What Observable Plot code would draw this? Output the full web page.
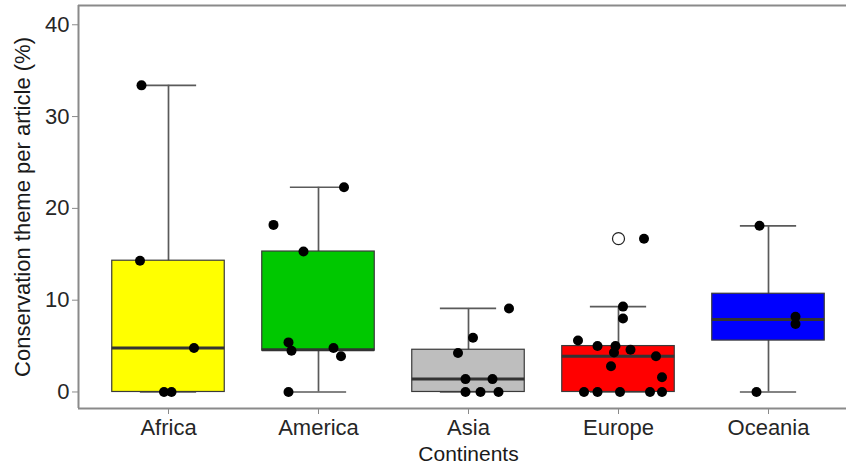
<!DOCTYPE html>
<html>
<head>
<meta charset="utf-8">
<script src="https://cdn.jsdelivr.net/npm/d3@7"></script>
<script src="https://cdn.jsdelivr.net/npm/@observablehq/plot@0.6"></script>
<style>
  html, body { margin: 0; padding: 0; background: #fff; }
  #chart { width: 846px; height: 468px; }
</style>
</head>
<body>
<div id="chart"></div>
<script>
// ---- data ----
const continents = ["Africa", "America", "Asia", "Europe", "Oceania"];
const whiskerLow  = [0,    0,    0,   0,   0];
const q1          = [0,    4.5,  0,   0,   5.6];
const median      = [4.8,  4.6,  1.4, 3.9, 7.9];
const q3          = [14.3, 15.3, 4.6, 5.0, 10.7];
const whiskerHigh = [33.4, 22.3, 9.1, 9.3, 18.1];

const outlierContinent = ["Europe"];
const outlierValue = [16.7];

// jittered observations: continent, value, horizontal jitter (category units)
const pointContinent = [
  "Africa","Africa","Africa","Africa","Africa",
  "America","America","America","America","America","America","America","America",
  "Asia","Asia","Asia","Asia","Asia","Asia","Asia","Asia",
  "Europe","Europe","Europe","Europe","Europe","Europe","Europe","Europe","Europe","Europe","Europe","Europe","Europe","Europe","Europe","Europe",
  "Oceania","Oceania","Oceania","Oceania"
];
const pointValue = [
  33.4, 14.3, 4.8, 0, 0,
  22.3, 18.2, 15.3, 5.4, 4.5, 4.8, 3.9, 0,
  9.1, 5.9, 4.25, 1.4, 1.4, 0, 0, 0,
  16.7, 9.3, 8.0, 5.6, 5.0, 5.0, 4.3, 4.6, 3.9, 2.8, 1.6, 0, 0, 0, 0, 0,
  18.1, 8.2, 7.4, 0
];
const pointJitter = [
  -0.18, -0.19, 0.17, -0.03, 0.02,
  0.17, -0.30, -0.10, -0.20, -0.18, 0.10, 0.15, -0.20,
  0.27, 0.03, -0.07, -0.02, 0.16, -0.02, 0.08, 0.20,
  0.17, 0.03, 0.03, -0.27, -0.14, -0.02, -0.03, 0.08, 0.25, -0.05, 0.29, -0.23, -0.14, 0.01, 0.21, 0.29,
  -0.06, 0.18, 0.18, -0.08
];
const yTicks = [0, 10, 20, 30, 40];
const fillColors = ["#FFFF00", "#00C800", "#BEBEBE", "#FF0000", "#0000FF"];

// ---- build tables ----
const pos = c => continents.indexOf(c) + 1;
const boxes = continents.map((c, i) => ({
  c, i: i + 1, lo: whiskerLow[i], q1: q1[i], med: median[i], q3: q3[i], hi: whiskerHigh[i]
}));
const points = pointValue.map((v, k) => ({ c: pointContinent[k], v, x: pos(pointContinent[k]) + pointJitter[k] }));
const outliers = outlierValue.map((v, k) => ({ c: outlierContinent[k], v, x: pos(outlierContinent[k]) }));

const Y0 = -1.8, Y1 = 42.1, X0 = 0.4;
const BOX = 0.375, CAP = 0.1875;
const axisGrey = "#8a8a8a";
const font = "Liberation Sans, Arial, Helvetica, sans-serif";

const chart = Plot.plot({
  width: 846,
  height: 468,
  marginLeft: 78,
  marginRight: 0,
  marginTop: 5,
  marginBottom: 60,
  style: { fontFamily: font, background: "#fff" },
  x: { domain: [X0, 5.52] },
  y: { domain: [Y0, Y1] },
  color: { domain: continents, range: fillColors },
  marks: [
    // whiskers
    Plot.ruleX(boxes, { x: "i", y1: "lo", y2: "hi", stroke: "#5a5a5a", strokeWidth: 1.7 }),
    Plot.ruleY(boxes, { y: "hi", x1: d => d.i - CAP, x2: d => d.i + CAP, stroke: "#5a5a5a", strokeWidth: 1.7 }),
    Plot.ruleY(boxes, { y: "lo", x1: d => d.i - CAP, x2: d => d.i + CAP, stroke: "#5a5a5a", strokeWidth: 1.7 }),
    // boxes
    Plot.rect(boxes, { x1: d => d.i - BOX, x2: d => d.i + BOX, y1: "q1", y2: "q3", fill: "c", stroke: "#3a3a3a", strokeWidth: 1.2 }),
    Plot.ruleY(boxes, { y: "med", x1: d => d.i - BOX, x2: d => d.i + BOX, stroke: "#333", strokeWidth: 3 }),
    // outliers
    Plot.dot(outliers, { x: "x", y: "v", r: 6, fill: "#fff", stroke: "#222", strokeWidth: 1.2 }),
    // observations
    Plot.dot(points, { x: "x", y: "v", r: 5, fill: "#000" }),
    // panel border (left, top, bottom)
    Plot.ruleX([X0], { stroke: axisGrey, strokeWidth: 2 }),
    Plot.ruleY([Y1], { stroke: axisGrey, strokeWidth: 2 }),
    Plot.ruleY([Y0], { stroke: axisGrey, strokeWidth: 2 }),
    // axes
    Plot.axisY({ ticks: yTicks, tickSize: 6, tickPadding: 3, stroke: axisGrey, fill: "#262626", fontSize: 22, label: null }),
    Plot.axisX({ ticks: [1, 2, 3, 4, 5], tickFormat: d => continents[d - 1], tickSize: 6, tickPadding: 5, stroke: axisGrey, fill: "#262626", fontSize: 22, label: null }),
    // titles
    Plot.text(["Continents"], { x: 3, frameAnchor: "bottom", dy: 46, text: d => d, fontSize: 21, fill: "#1a1a1a", lineAnchor: "middle" }),
    Plot.text(["Conservation theme per article (%)"], { frameAnchor: "left", dx: -56, rotate: -90, text: d => d, fontSize: 22, fill: "#1a1a1a", lineAnchor: "middle", textAnchor: "middle" })
  ]
});
document.getElementById("chart").appendChild(chart);
</script>
</body>
</html>
